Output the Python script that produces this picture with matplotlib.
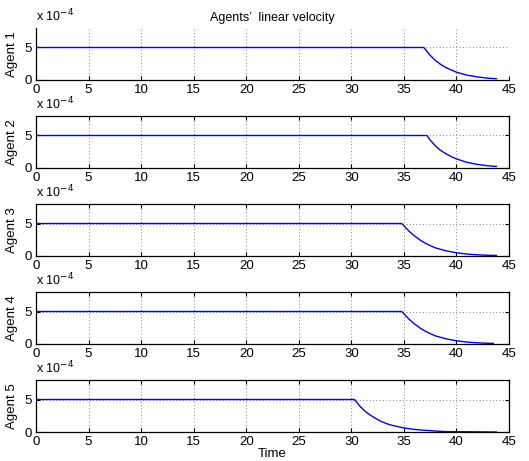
import matplotlib
matplotlib.use('Agg')
import matplotlib.pyplot as plt
import numpy as np

plt.rcParams['font.family'] = ['Liberation Sans', 'DejaVu Sans']
plt.rcParams['font.size'] = 9.5

# velocity of each agent (units of 1e-4)
t1 = [0, 36.9, 37.5, 38, 38.5, 39, 39.5, 40, 41, 42, 43, 43.8]
v1 = [5, 5, 3.8, 3.0, 2.4, 1.9, 1.55, 1.2, 0.75, 0.47, 0.28, 0.2]

t2 = [0, 37.2, 37.5, 38, 38.5, 39, 39.5, 40, 41, 42, 43, 43.8]
v2 = [5, 5, 4.3, 3.4, 2.7, 2.2, 1.75, 1.4, 0.87, 0.55, 0.34, 0.24]

t3 = [0, 34.8, 35.5, 36, 36.5, 37, 37.5, 38, 39, 40, 41, 42, 43, 43.8]
v3 = [5, 5, 3.8, 3.1, 2.5, 2.0, 1.6, 1.25, 0.8, 0.5, 0.3, 0.18, 0.11, 0.08]

t4 = [0, 34.8, 35.5, 36, 36.5, 37, 37.5, 38, 39, 40, 41, 42, 43, 43.5]
v4 = [5, 5, 3.8, 3.1, 2.5, 2.0, 1.6, 1.25, 0.8, 0.5, 0.3, 0.18, 0.11, 0.09]

t5 = [0, 30.3, 30.8, 31.3, 31.8, 32.3, 32.8, 33.5, 34, 35, 36, 37, 38, 39, 43.8]
v5 = [5, 5, 4.0, 3.2, 2.6, 2.1, 1.65, 1.2, 0.98, 0.63, 0.4, 0.26, 0.15, 0.06, 0.0]

times = [t1, t2, t3, t4, t5]
vels = [v1, v2, v3, v4, v5]
labels = ['Agent 1', 'Agent 2', 'Agent 3', 'Agent 4', 'Agent 5']
xticks = [0, 5, 10, 15, 20, 25, 30, 35, 40, 45]
yticks = [0, 5]

W, H = 529, 461
fig = plt.figure(figsize=(W/100, H/100), dpi=100)

left = 36 / W
width = 473 / W
bottoms_px = [80, 168, 256, 344, 432]
height_px = 52

for k in range(5):
    b = 1 - bottoms_px[k] / H
    ax = fig.add_axes([left, b, width, height_px / H])
    ax.plot(times[k], vels[k], color='blue', lw=1)
    ax.set_xlim(0, 45)
    ax.set_ylim(0, 8)
    ax.set_xticks(xticks)
    ax.set_yticks(yticks)
    ax.grid(True, linestyle=(0, (1, 3)), color='0.35', lw=0.6)
    ax.set_ylabel(labels[k], labelpad=5)
    ax.tick_params(direction='in', length=3, width=0.8, pad=3)
    if k == 0:
        ax.spines['top'].set_visible(False)
        ax.spines['right'].set_visible(False)
        ax.set_title('Agents\u2019  linear velocity', fontsize=9, pad=5)
    else:
        ax.tick_params(top=True, right=True)
    for s in ax.spines.values():
        s.set_linewidth(0.9)
    ax.text(0.0, 1.07, r'x 10$^{-4}$', transform=ax.transAxes,
            ha='left', va='bottom', fontsize=9)
    if k == 4:
        ax.set_xlabel('Time', labelpad=0)

fig.savefig('out.png', dpi=100)
